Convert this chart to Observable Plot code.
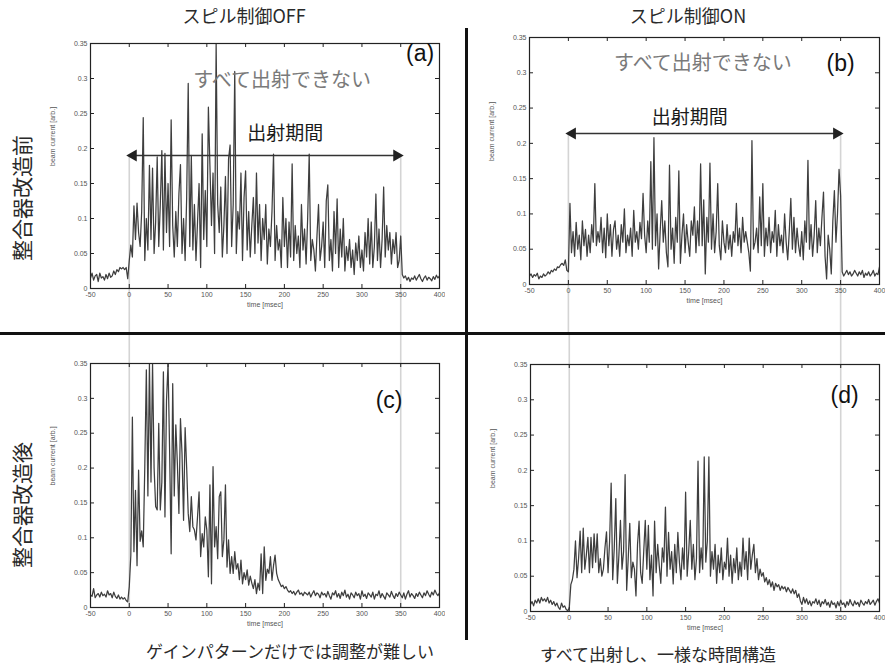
<!DOCTYPE html>
<html><head><meta charset="utf-8">
<script src="https://cdn.jsdelivr.net/npm/d3@7"></script>
<script src="https://cdn.jsdelivr.net/npm/@observablehq/plot@0.6"></script>
<style>
body{margin:0;background:#fff;}
#root{position:relative;width:885px;height:667px;overflow:hidden;background:#fff;font-family:"Noto Sans CJK JP","Noto Sans",sans-serif;color:#2a2a2a}
.abs{position:absolute;white-space:nowrap;line-height:1.1}
</style></head><body><div id="root"></div><script>
// ---- data ----
const xTicks = [-50, 0, 50, 100, 150, 200, 250, 300, 350, 400];
const yTicks = [0, 0.05, 0.1, 0.15, 0.2, 0.25, 0.3, 0.35];
const tStart = -50, tStep = 2;           // sample times: -50, -48, ..., 400 (msec)
const guideTimes = [0, 350];             // extraction period edges
// beam current x1000 [arb.]
const beamA = [
 15,22,12,18,20,10,22,15,17,12,
 20,14,22,16,18,25,20,27,24,30,
 28,30,27,30,14,40,62,45,118,70,
 122,80,60,110,244,40,100,55,176,70,
 172,50,95,188,60,120,197,55,193,80,
 150,60,241,90,45,110,60,135,177,50,
 100,40,130,293,60,190,55,120,40,95,
 150,30,221,70,140,60,259,175,90,165,
 50,350,120,80,145,45,90,160,50,185,
 205,60,120,310,50,110,85,165,40,130,
 168,55,110,45,90,130,50,165,65,120,
 40,100,70,120,35,85,60,110,192,40,
 90,55,70,30,130,60,100,30,95,45,
 178,40,90,50,75,30,120,55,85,35,
 100,192,40,70,55,25,75,120,40,60,
 95,30,125,148,40,70,25,110,50,128,
 30,85,45,100,25,60,40,70,30,55,
 20,65,40,75,30,55,25,80,45,100,
 35,95,30,60,135,40,85,30,70,145,
 45,90,55,80,35,70,50,80,30,40,
 75,20,15,18,12,16,10,15,13,18,
 12,16,20,14,10,15,18,12,16,14,
 11,17,13,19,15,18
];
const beamB = [
 12,15,10,14,12,16,8,12,10,15,
 12,14,18,15,20,18,22,20,25,24,
 28,30,27,35,20,18,115,45,75,40,
 88,50,70,35,90,55,78,40,70,45,
 85,60,143,55,75,60,95,45,80,38,
 100,55,85,40,78,90,50,70,40,85,
 60,107,45,70,55,80,40,105,60,75,
 50,88,65,129,70,45,90,60,174,50,
 208,55,100,22,75,119,60,90,45,25,
 169,50,80,30,95,60,161,30,70,100,
 45,85,60,40,90,70,110,45,90,55,
 171,55,120,15,95,60,172,50,100,45,
 75,143,55,35,90,60,45,85,50,70,
 40,75,60,115,55,80,45,95,60,75,
 60,45,19,204,50,60,80,45,124,55,
 143,40,80,55,95,45,75,60,105,40,
 85,55,70,45,100,60,35,75,122,50,
 95,45,80,55,40,75,35,90,60,176,
 50,85,40,70,119,45,80,55,95,131,
 40,8,70,50,15,90,133,60,100,163,
 126,18,12,16,20,14,18,12,15,20,
 16,12,18,14,20,10,16,13,18,12,
 15,20,12,16,14,25
];
const beamC = [
 18,16,27,14,18,20,15,22,17,19,
 15,24,18,20,14,22,16,13,18,12,
 15,12,14,10,8,30,75,273,80,168,
 60,197,95,110,87,202,341,160,350,180,
 350,200,145,140,264,140,180,338,130,297,
 350,226,77,321,160,262,207,135,271,221,
 125,258,200,135,109,159,116,111,97,130,
 166,73,106,87,130,111,44,176,34,202,
 87,116,70,159,166,73,97,176,58,97,
 49,73,49,80,55,63,40,68,34,50,
 40,54,32,45,35,27,40,20,35,25,
 77,20,87,39,55,49,73,39,60,75,
 49,40,35,30,32,27,30,25,22,24,
 20,23,18,22,25,19,21,17,22,20,
 18,22,15,20,24,17,21,19,14,22,
 18,20,15,23,17,12,21,18,24,15,
 20,13,22,17,25,15,19,12,21,18,
 14,22,17,20,12,24,16,19,13,21,
 18,15,22,12,19,17,24,14,20,16,
 12,21,18,15,23,17,13,20,16,22,
 18,14,21,12,19,24,15,20,17,13,
 20,16,22,18,14,21,17,24,19,15,
 22,18,25,20,17,21
];
const beamD = [
 10,14,8,16,12,18,12,20,15,18,
 14,20,12,16,10,14,8,12,6,3,
 12,6,8,3,1,5,38,45,60,100,
 48,75,114,55,118,60,80,105,55,105,
 62,110,70,110,55,75,50,60,90,113,
 55,100,182,45,90,160,40,80,129,60,
 85,194,30,75,125,48,70,60,22,95,
 128,55,40,85,129,60,122,45,80,22,
 128,55,95,65,40,90,70,148,50,112,
 60,85,39,95,55,112,70,45,90,60,
 169,50,85,129,60,95,45,75,213,55,
 90,60,219,70,100,219,50,85,60,95,
 40,80,55,90,45,70,60,104,50,80,
 40,75,55,90,45,70,50,104,60,85,
 45,104,60,80,95,55,75,45,60,50,
 55,42,48,38,45,35,42,30,40,35,
 38,30,36,32,35,28,34,30,26,32,
 25,30,20,25,15,10,20,12,18,10,
 15,8,14,12,18,10,16,7,14,11,
 17,9,13,6,15,10,12,5,14,8,
 16,10,12,6,14,9,17,11,8,15,
 10,13,7,16,12,9,14,11,17,10,
 13,16,9,14,18,12
];
// annotation texts
const headers = ["スピル制御OFF", "スピル制御ON"];
const rowLabels = ["整合器改造前", "整合器改造後"];
const captions = ["ゲインパターンだけでは調整が難しい", "すべて出射し、一様な時間構造"];
const panelTags = ["(a)", "(b)", "(c)", "(d)"];
const notEmitted = "すべて出射できない";
const periodLabel = "出射期間";
const xLabel = "time [msec]";
const yLabel = "beam current [arb.]";
// annotation anchors in data coords (msec, arb.)
const notEmittedPos = [{t: 197, v: 0.297}, {t: 173, v: 0.313}];
const periodPos = [{t: 201, v: 0.221}, {t: 156, v: 0.236}];
const arrowLevel = [0.19, 0.214];
const tagPos = [{t: 375, v: 0.336}, {t: 350, v: 0.313}, {t: 335, v: 0.297}, {t: 355, v: 0.306}];

const root = document.getElementById("root");

function panel(cfg) {
  const data = cfg.values.map((v, i) => ({t: tStart + i * tStep, v: v / 1000}));
  const fw = cfg.fw, fh = cfg.fh;
  const width = cfg.ml + fw + cfg.mr, height = cfg.mt + fh + cfg.mb;
  const marks = [
    Plot.ruleX(guideTimes, {x: d => d, y1: cfg.g1, y2: cfg.g2, stroke: "#d4d4d4", strokeWidth: 1.6}),
    Plot.line(data, {x: "t", y: "v", stroke: "#3e3e3e", strokeWidth: 1.25, clip: true}),
    Plot.frame({stroke: "#222", strokeWidth: 1.2}),
    Plot.ruleX(xTicks, {x: d => d, insetBottom: fh - 4, stroke: "#222"}),
    Plot.ruleX(xTicks, {x: d => d, insetTop: fh - 4, stroke: "#222"}),
    Plot.ruleY(yTicks, {y: d => d, insetRight: fw - 4, stroke: "#222"}),
    Plot.ruleY(yTicks, {y: d => d, insetLeft: fw - 4, stroke: "#222"}),
    Plot.axisX(xTicks, {anchor: "bottom", tickSize: 0, tickPadding: 4, fontSize: 7, fill: "#555", tickFormat: d => String(d), label: null}),
    Plot.axisY(yTicks, {anchor: "left", tickSize: 0, tickPadding: 3, fontSize: 7, fill: "#555", tickFormat: d => String(d), label: null}),
    Plot.text([xLabel], {frameAnchor: "bottom", dy: 18, fontSize: 7, fill: "#555"}),
    Plot.text([yLabel], {frameAnchor: "left", dx: -38, rotate: -90, fontSize: 7, fill: "#555"}),
    Plot.text([cfg.tag], {x: d => cfg.tagPos.t, y: d => cfg.tagPos.v, fontSize: 23, fill: "#111", fontFamily: "Liberation Sans, Arial, sans-serif"})
  ];
  if (cfg.arrow != null) {
    const a = [{t1: guideTimes[0], t2: guideTimes[1], v: cfg.arrow}];
    marks.push(
      Plot.text([notEmitted], {x: d => cfg.nePos.t, y: d => cfg.nePos.v, fontSize: 20, fill: "#7a7a7a", fontFamily: "Noto Sans CJK JP"}),
      Plot.text([periodLabel], {x: d => cfg.pPos.t, y: d => cfg.pPos.v, fontSize: 19, fill: "#1a1a1a", fontFamily: "Noto Sans CJK JP"}),
      Plot.link(a, {x1: "t1", x2: "t2", y1: "v", y2: "v", stroke: "#333", strokeWidth: 1.6}),
      Plot.dot(a, {x: "t1", y: "v", symbol: "triangle", rotate: -90, r: 4.5, fill: "#222", stroke: null, dx: 4}),
      Plot.dot(a, {x: "t2", y: "v", symbol: "triangle", rotate: 90, r: 4.5, fill: "#222", stroke: null, dx: -4})
    );
  }
  const svg = Plot.plot({
    width, height,
    marginLeft: cfg.ml, marginRight: cfg.mr, marginTop: cfg.mt, marginBottom: cfg.mb,
    x: {domain: [-50, 400]},
    y: {domain: [0, 0.35]},
    style: {background: "transparent", fontFamily: "Liberation Sans, Arial, sans-serif", overflow: "hidden"},
    marks
  });
  svg.style.position = "absolute";
  svg.style.left = cfg.left + "px";
  svg.style.top = cfg.top + "px";
  root.appendChild(svg);
}

panel({values: beamA, left: 30, top: 0, ml: 60, mr: 6, mt: 43, mb: 47, fw: 349, fh: 245, g1: arrowLevel[0], g2: -0.2, arrow: arrowLevel[0], nePos: notEmittedPos[0], pPos: periodPos[0], tag: panelTags[0], tagPos: tagPos[0]});
panel({values: beamB, left: 469, top: 0, ml: 60, mr: 6, mt: 37, mb: 51, fw: 350, fh: 247, g1: arrowLevel[1], g2: -0.2, arrow: arrowLevel[1], nePos: notEmittedPos[1], pPos: periodPos[1], tag: panelTags[1], tagPos: tagPos[1]});
panel({values: beamC, left: 30, top: 335, ml: 60, mr: 6, mt: 28, mb: 60, fw: 349, fh: 244, g1: 0.6, g2: 0, arrow: null, tag: panelTags[2], tagPos: tagPos[2]});
panel({values: beamD, left: 470, top: 335, ml: 60, mr: 6, mt: 29, mb: 56, fw: 349, fh: 247, g1: 0.6, g2: 0, arrow: null, tag: panelTags[3], tagPos: tagPos[3]});

function addText(txt, cx, cy, size, extra) {
  const d = document.createElement("div");
  d.className = "abs";
  d.textContent = txt;
  d.style.fontSize = size + "px";
  d.style.left = cx + "px";
  d.style.top = cy + "px";
  d.style.transform = "translate(-50%,-50%)" + (extra || "");
  root.appendChild(d);
  return d;
}
function addBar(x, y, w, h) {
  const d = document.createElement("div");
  d.className = "abs";
  Object.assign(d.style, {left: x + "px", top: y + "px", width: w + "px", height: h + "px", background: "#111"});
  root.appendChild(d);
}
addBar(0, 332, 885, 3);
addBar(465, 28, 3, 612);
addText(headers[0], 244, 16, 18);
addText(headers[1], 688, 16, 18);
addText(rowLabels[0], 22, 198, 21, " rotate(-90deg)");
addText(rowLabels[1], 22, 505, 21, " rotate(-90deg)");
addText(captions[0], 290, 651, 17);
addText(captions[1], 658, 654, 17);
</script></body></html>
